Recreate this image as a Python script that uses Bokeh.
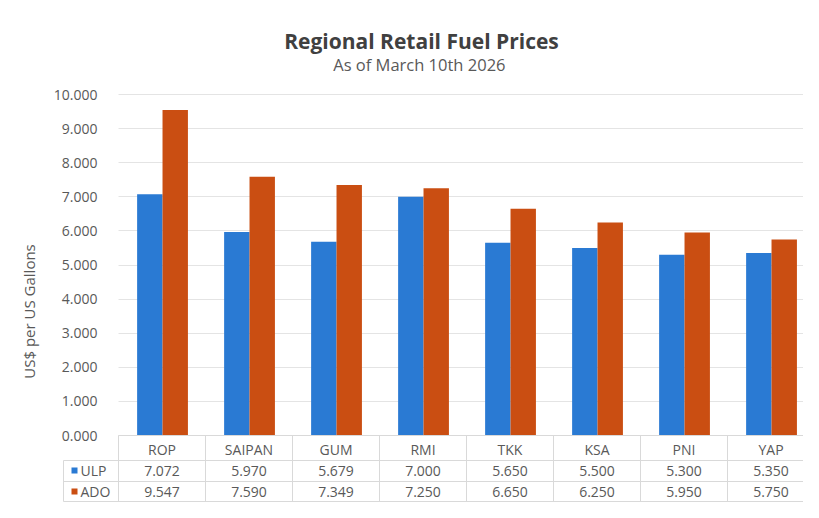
import math
from bokeh.plotting import figure
from bokeh.models import (Range1d, LinearAxis, FixedTicker, NumeralTickFormatter,
                          Label, Grid)
from bokeh.core.properties import value
from bokeh.embed import file_html
from bokeh.resources import INLINE

# ---------------- data ----------------
regions = ["ROP", "SAIPAN", "GUM", "RMI", "TKK", "KSA", "PNI", "YAP"]
ulp = [7.072, 5.970, 5.679, 7.000, 5.650, 5.500, 5.300, 5.350]
ado = [9.547, 7.590, 7.349, 7.250, 6.650, 6.250, 5.950, 5.750]
series_names = ["ULP", "ADO"]
y_ticks = [0, 1, 2, 3, 4, 5, 6, 7, 8, 9, 10]
title_text = "Regional Retail Fuel Prices"
subtitle_text = "As of  March 10th 2026"
y_label_text = "US$ per US Gallons"

# ---------------- layout constants (pixels) ----------------
W, H = 803, 502
X0 = 118          # px from left where first category band starts
PX_X = 87.0       # px per category band
Y0 = 435          # px from top where value 0 sits
PX_Y = 34.1       # px per unit of value
FONT = "Open Sans"
TXT = "#595959"
LINE = "#D9D9D9"
BLUE = "#2A7AD3"
ORANGE = "#CA4E12"

def px_x(px):
    return (px - X0) / PX_X

def off_y(px_below_zero):
    return -px_below_zero / PX_Y

p = figure(width=W, height=H,
           x_range=Range1d(px_x(0), px_x(W)),
           y_range=Range1d(off_y(H - Y0), Y0 / PX_Y),
           output_backend="svg", toolbar_location=None,
           x_axis_location=None, y_axis_location=None,
           min_border=0, outline_line_color=None,
           background_fill_color="white", border_fill_color="white")
p.xgrid.visible = False
p.ygrid.visible = False

n = len(regions)

# gridlines
grid = Grid(dimension=1, ticker=FixedTicker(ticks=y_ticks),
            grid_line_color="#E4E4E4", grid_line_width=1,
            cross_bounds=(0, n))
p.add_layout(grid)

# y axis
yaxis = LinearAxis(ticker=FixedTicker(ticks=y_ticks),
                   formatter=NumeralTickFormatter(format="0.000"),
                   fixed_location=0, bounds=(0, 10))
yaxis.axis_line_color = None
yaxis.major_tick_line_color = None
yaxis.minor_tick_line_color = None
yaxis.major_label_standoff = 15
yaxis.major_label_text_font = FONT
yaxis.major_label_text_font_size = "14px"
yaxis.major_label_text_color = TXT
p.add_layout(yaxis, "left")

# bars
bw = 0.292
blue_x = [i + 0.36 for i in range(n)]
orange_x = [i + 0.36 + bw for i in range(n)]
p.vbar(x=blue_x, top=ulp, bottom=0, width=bw, fill_color=BLUE, line_color=None)
p.vbar(x=orange_x, top=ado, bottom=0, width=bw, fill_color=ORANGE, line_color=None)

# ---------------- data table ----------------
row_hdr, row_ulp, row_ado = 14, 35, 56        # px below zero line (text centers)
sep1, sep2, sep3 = 25, 46, 66                 # horizontal separators
left_edge = px_x(63)
centers = [i + 0.5 for i in range(n)]

p.segment(x0=[0, left_edge, left_edge, left_edge], x1=[n, n, n, n],
          y0=[0, off_y(sep1), off_y(sep2), off_y(sep3)],
          y1=[0, off_y(sep1), off_y(sep2), off_y(sep3)],
          line_color=LINE, line_width=1)
vx = list(range(n + 1))
p.segment(x0=vx, x1=vx, y0=[0] * len(vx), y1=[off_y(sep3)] * len(vx),
          line_color=LINE, line_width=1)
p.segment(x0=[left_edge], x1=[left_edge], y0=[off_y(sep1)], y1=[off_y(sep3)],
          line_color=LINE, line_width=1)

tk = dict(text_font=value(FONT), text_font_size="14px", text_color=TXT,
          text_align="center", text_baseline="middle")
p.text(x=centers, y=[off_y(row_hdr)] * n, text=regions, **tk)
p.text(x=centers, y=[off_y(row_ulp)] * n, text=["%.3f" % v for v in ulp], **tk)
p.text(x=centers, y=[off_y(row_ado)] * n, text=["%.3f" % v for v in ado], **tk)

key_x = px_x(74)
p.scatter(x=[key_x, key_x], y=[off_y(row_ulp), off_y(row_ado)], marker="square",
          size=6, fill_color=[BLUE, ORANGE], line_color=None)
p.text(x=[px_x(80), px_x(80)], y=[off_y(row_ulp), off_y(row_ado)], text=series_names,
       text_font=value(FONT), text_font_size="14px", text_color=TXT,
       text_align="left", text_baseline="middle")

# ---------------- titles ----------------
p.add_layout(Label(x=421, y=H - 40, x_units="screen", y_units="screen",
                   text=title_text, text_font=FONT, text_font_size="21px",
                   text_font_style="bold", text_color="#404040",
                   text_align="center", text_baseline="middle"))
p.add_layout(Label(x=421, y=H - 64, x_units="screen", y_units="screen",
                   text=subtitle_text, text_font=FONT, text_font_size="16.5px",
                   text_color=TXT, text_align="center", text_baseline="middle"))
p.add_layout(Label(x=28, y=H - 311, x_units="screen", y_units="screen",
                   text=y_label_text, text_font=FONT, text_font_size="15px",
                   text_color=TXT, angle=math.pi / 2,
                   text_align="center", text_baseline="middle"))

open("out.html", "w").write(file_html(p, INLINE))
